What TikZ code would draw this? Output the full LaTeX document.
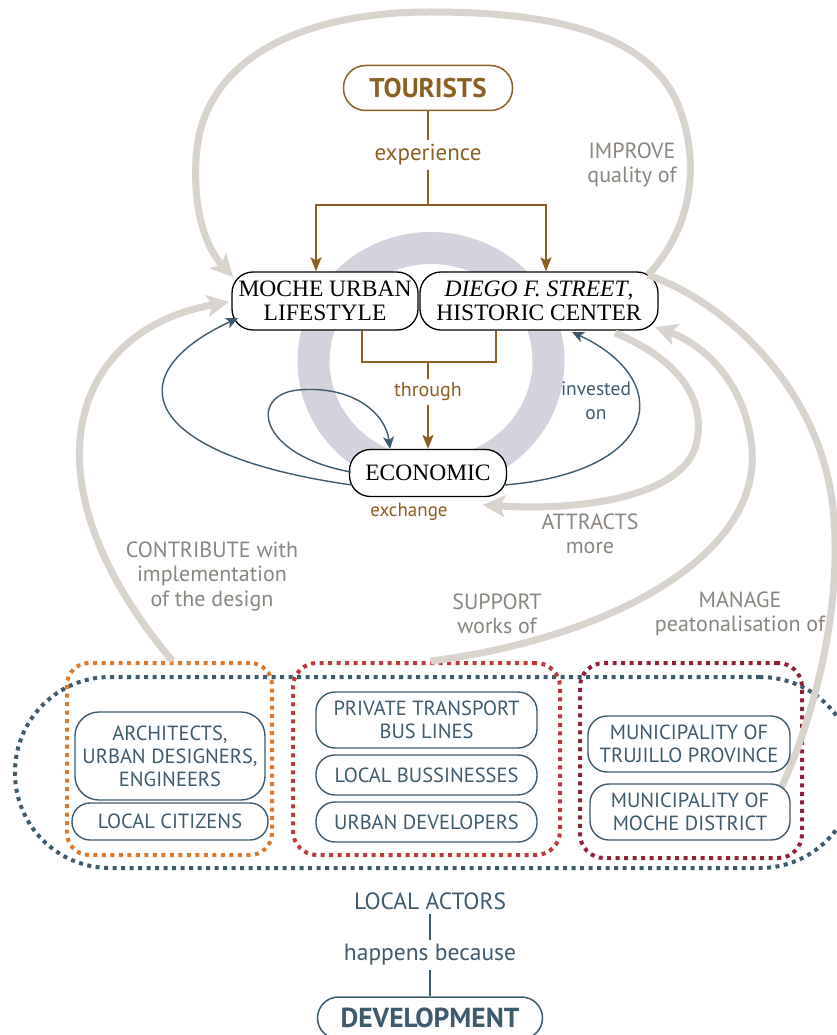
\documentclass[tikz,border=0pt]{standalone}
\usepackage{fontspec}
\setmainfont{PT Sans}
\newfontfamily\nodeserif{Liberation Serif}
\usetikzlibrary{arrows.meta}

\definecolor{brownc}{HTML}{8C5F22}
\definecolor{slate}{HTML}{3E5A6D}
\definecolor{warmgray}{HTML}{D9D3CD}
\definecolor{labelgray}{HTML}{8B857F}
\definecolor{ringc}{HTML}{D3D3DD}
\definecolor{orangec}{HTML}{DB7A2E}
\definecolor{redc}{HTML}{BC3A3C}
\definecolor{wine}{HTML}{8E2338}

\tikzset{
  corenode/.style={draw=black, line width=1.3pt, rounded corners=21pt, align=center,
    inner sep=0pt, fill=white, font=\nodeserif\fontsize{23.5}{24}\selectfont},
  actor/.style={draw=slate, line width=1.4pt, rounded corners=19pt, fill=white, text=slate,
    align=center, inner sep=0pt, font=\fontsize{20.5}{23}\selectfont},
  flow/.style={draw=warmgray, line width=7pt, -{Stealth[length=22pt,width=22pt,inset=5pt]}},
  flowplain/.style={draw=warmgray, line width=7pt},
  bluearrow/.style={draw=slate, line width=1.4pt, -{Stealth[length=12pt,width=11pt,inset=3pt]}},
  brownline/.style={draw=brownc, line width=1.5pt},
  brownarrow/.style={brownline, -{Stealth[length=14pt,width=11pt,inset=3pt]}},
  glabel/.style={text=labelgray, align=center, inner sep=0pt, font=\fontsize{22}{24.5}\selectfont},
  brownlabel/.style={text=brownc, inner sep=4pt, font=\fontsize{23}{24}\selectfont},
  bluelabel/.style={text=slate, align=center, inner sep=4pt, font=\fontsize{19.5}{24}\selectfont},
  dotframe/.style={line width=4pt, dash pattern=on 4pt off 4.5pt, inner sep=0pt},
  chainlabel/.style={text=slate, inner sep=4pt, font=\fontsize{23.5}{24}\selectfont},
}

\begin{document}
\begin{tikzpicture}[x=1pt,y=-1pt]
\useasboundingbox (0,0) rectangle (836,1035);
\fill[white] (0,0) rectangle (836,1035);

% central ring behind the core nodes
\draw[ringc, line width=32pt] (431,361) ellipse [x radius=117.5pt, y radius=113pt];

% core nodes
\node[draw=brownc, line width=1.5pt, rounded corners=22pt, minimum width=169pt, minimum height=45pt,
      text=brownc, font=\bfseries\fontsize{27}{27}\selectfont] (tourists) at (428,88) {TOURISTS};
\node[corenode, minimum width=186pt, minimum height=58pt] (moche) at (325,301) {MOCHE URBAN\\LIFESTYLE};
\node[corenode, minimum width=238pt, minimum height=58pt] (diego) at (539,301) {\itshape DIEGO F. STREET\upshape,\\HISTORIC CENTER};
\node[corenode, minimum width=157pt, minimum height=47pt] (econ) at (428,473) {ECONOMIC};

% bottom groups of actors
\node[dotframe, draw=slate, rounded corners=95pt, minimum width=840pt, minimum height=191pt] (actors) at (435,772.5) {};
\node[dotframe, draw=orangec, rounded corners=22pt, minimum width=205pt, minimum height=192pt] (orangebox) at (169.5,759) {};
\node[dotframe, draw=redc, rounded corners=24pt, minimum width=267pt, minimum height=192pt] (redbox) at (426.5,759) {};
\node[dotframe, draw=wine, rounded corners=24pt, minimum width=222pt, minimum height=195pt] (winebox) at (691,760.5) {};

% gray relation flows
\draw[flow] ([shift={(109,-26)}]diego.center)
  .. controls (692,228) and (700,165) .. (680,110)
  .. controls (650,25) and (530,12) .. (430,12)
  .. controls (300,12) and (200,60) .. (196,160)
  .. controls (193,215) and (208,250) .. ([shift={(-92,-24)}]moche.center);
\draw[flow] ([xshift=3pt]orangebox.north)
  .. controls (20,480) and (70,330) .. ([shift={(-96,1)}]moche.center);
\draw[flow] ([shift={(76,32)}]diego.center)
  .. controls (680,360) and (705,400) .. (697,440)
  .. controls (690,490) and (600,512) .. ([shift={(55,32)}]econ.center);
\draw[flow] ([xshift=4pt]redbox.north)
  .. controls (600,640) and (760,560) .. (752,450)
  .. controls (747,385) and (705,345) .. ([shift={(116,26)}]diego.center);
\coordinate (manageStart) at ([shift={(85,38)}]winebox.center);
\draw[flowplain] (manageStart)
  .. controls (815,720) and (845,600) .. (832,500)
  .. controls (815,380) and (720,300) .. ([shift={(109,-26)}]diego.center);

\node[glabel] (improve) at (632,165) {IMPROVE\\quality of};
\node[glabel] (contribute) at (212,576) {CONTRIBUTE with\\implementation\\of the design};
\node[glabel] (attracts) at (590,534) {ATTRACTS\\more};
\node[glabel] (support) at (497,614) {SUPPORT\\works of};
\node[glabel] (manage) at (740,614) {MANAGE\\peatonalisation of};

% brown connectors
\node[brownlabel] (exp) at (428,155) {experience};
\coordinate (split) at (428,205);
\draw[brownline] (tourists.south) -- (exp.north);
\draw[brownline] (exp.south) -- (split);
\draw[brownarrow] (split) -| ([xshift=-9pt]moche.north);
\draw[brownarrow] (split) -| ([xshift=7pt]diego.north);
\node[brownlabel, font=\fontsize{20}{20}\selectfont] (thr) at (428,392) {through};
\coordinate (join) at (428,362);
\draw[brownline] ([xshift=37pt]moche.south) |- (join) -| ([xshift=-43pt]diego.south);
\draw[brownline] (join) -- (thr.north);
\draw[brownarrow] (thr.south) -- (econ.north);
\node[brownlabel, font=\fontsize{19}{20}\selectfont] (exch) at (409,512) {exchange};

% blue economic flows
\draw[bluearrow] ([shift={(3,12)}]econ.west)
  .. controls (140,455) and (115,375) .. ([shift={(-87,17)}]moche.center);
\draw[bluearrow] ([shift={(2,-1)}]econ.west)
  .. controls (258,455) and (248,395) .. (298,390)
  .. controls (355,385) and (386,415) .. ([xshift=-38pt]econ.north);
\draw[bluearrow] ([shift={(-3,12)}]econ.east)
  .. controls (662,472) and (675,380) .. ([shift={(33,31)}]diego.center);
\node[bluelabel] (invested) at (596,401) {invested\\on};

% actors
\node[actor, rounded corners=24pt, minimum width=190pt, minimum height=88pt] (arch) at (170,756) {ARCHITECTS,\\URBAN DESIGNERS,\\ENGINEERS};
\node[actor, rounded corners=18pt, minimum width=196pt, minimum height=37pt] (citizens) at (170,821.5) {LOCAL CITIZENS};
\node[actor, minimum width=221pt, minimum height=56pt] (transport) at (426.5,720) {PRIVATE TRANSPORT\\BUS LINES};
\node[actor, minimum width=221pt, minimum height=40pt] (business) at (426.5,775) {LOCAL BUSSINESSES};
\node[actor, minimum width=221pt, minimum height=40pt] (developers) at (426.5,822) {URBAN DEVELOPERS};
\node[actor, minimum width=202pt, minimum height=56pt] (trujillo) at (689,744) {MUNICIPALITY OF\\TRUJILLO PROVINCE};
\node[actor, minimum width=200pt, minimum height=56pt] (mochedist) at (690,812) {MUNICIPALITY OF\\MOCHE DISTRICT};

% bottom chain
\node[chainlabel] (localactors) at (430,901) {LOCAL ACTORS};
\node[chainlabel] (because) at (430,955) {happens because};
\node[draw=slate, line width=1.5pt, rounded corners=21pt, minimum width=225pt, minimum height=42pt,
      text=slate, font=\bfseries\fontsize{27.5}{27.5}\selectfont] (development) at (430,1018) {DEVELOPMENT};
\draw[slate, line width=1.5pt] (localactors.south) -- (because.north);
\draw[slate, line width=1.5pt] (because.south) -- (development.north);
\end{tikzpicture}
\end{document}
